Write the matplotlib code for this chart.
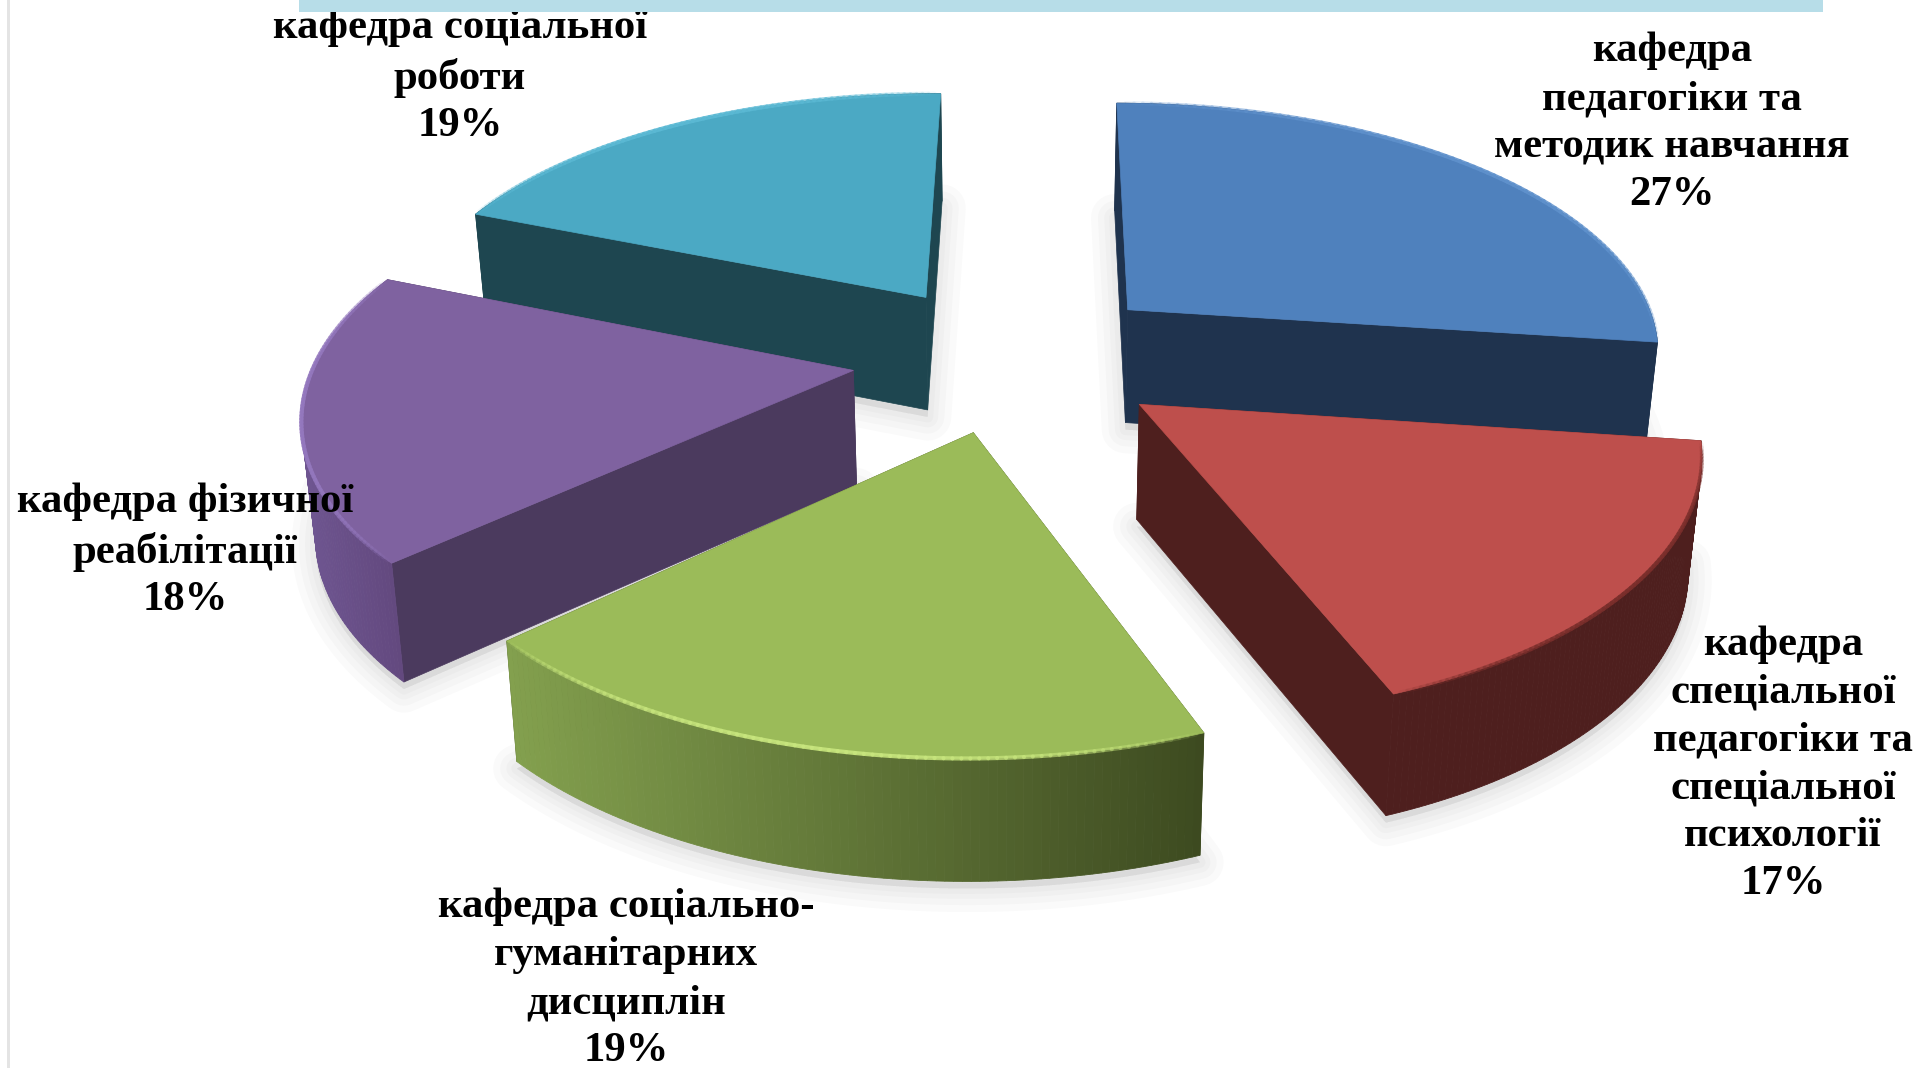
import numpy as np
import matplotlib
matplotlib.use("Agg")
import matplotlib.pyplot as plt
from matplotlib.colors import to_rgb
from matplotlib.patches import Polygon, Rectangle

# pie data, clockwise from the top
names = [
    "кафедра\nпедагогіки та\nметодик навчання",
    "кафедра\nспеціальної\nпедагогіки та\nспеціальної\nпсихології",
    "кафедра соціально-\nгуманітарних\nдисциплін",
    "кафедра фізичної\nреабілітації",
    "кафедра соціальної\nроботи",
]
values = [27, 17, 19, 18, 19]
top_colors = ["#4F81BD", "#BE4F4C", "#9BBB59", "#7F62A0", "#4BA9C4"]
cut_colors = ["#1F334E", "#4E1F1E", "#3F4B20", "#4B3A5E", "#1E4650"]
wall_left = ["#1F334E", "#4E1F1E", "#83A04E", "#6E5590", "#1E4650"]
wall_right = ["#1F334E", "#4E1F1E", "#3D4A20", "#63497F", "#1E4650"]
rim_colors = ["#5F91CC", "#7A2E2B", "#C8E67E", "#9478BE", "#5BB9D4"]
label_x = [1672, 1783, 626, 185, 460]
label_y = [123, 764, 979, 551, 77]

# view of the disc, in reference pixels
START = 0.5
CX, CY = 1011, 357
RX, RY = 537, 251
PERSP = 0.151
EXPLODE = 0.296
DEPTH = 114
BOTTOM_SHRINK = 0.98


def project(u, v, z=0.0):
    f = 1.0 / (1.0 - PERSP * v)
    scale = 1 - (1 - BOTTOM_SHRINK) * z
    return CX + RX * u * f * scale, CY + RY * v * f + z * DEPTH * f ** 0.35


def slice_outline(a0, a1, n=90):
    mid = np.radians((a0 + a1) / 2)
    ou, ov = EXPLODE * np.sin(mid), -EXPLODE * np.cos(mid)
    t = np.radians(np.linspace(a0, a1, n))
    return ou, ov, ou + np.sin(t), ov - np.cos(t)


def draw_slice(ax, a0, a1, i, zbase):
    ou, ov, u, v = slice_outline(a0, a1)
    ax0, ay0 = project(ou, ov)
    bx0, by0 = project(ou, ov, 1)
    tx, ty = project(u, v)
    bx, by = project(u, v, 1)

    # soft shadow below the block
    pts = np.column_stack([np.r_[bx0, bx], np.r_[by0, by] + 7])
    for lw in (34, 24, 15, 8):
        ax.add_patch(Polygon(pts, closed=True, fc="#808080", ec="#808080", lw=lw,
                             alpha=0.04, joinstyle="round", zorder=zbase))

    # the two cut faces
    for j in (0, -1):
        quad = [(ax0, ay0), (tx[j], ty[j]), (bx[j], by[j]), (bx0, by0)]
        ax.add_patch(Polygon(quad, closed=True, fc=cut_colors[i], ec=cut_colors[i],
                             lw=0.5, zorder=zbase + 1))

    # outer wall, shaded from left to right
    c0, c1 = np.array(to_rgb(wall_left[i])), np.array(to_rgb(wall_right[i]))
    xmin, xmax = tx.min(), tx.max()
    for k in range(len(tx) - 1):
        s = ((tx[k] + tx[k + 1]) / 2 - xmin) / (xmax - xmin)
        col = c0 + (c1 - c0) * s
        quad = [(tx[k], ty[k]), (tx[k + 1], ty[k + 1]), (bx[k + 1], by[k + 1]), (bx[k], by[k])]
        ax.add_patch(Polygon(quad, closed=True, fc=col, ec=col, lw=0.6, zorder=zbase + 1))

    # top face and bevel
    top = np.column_stack([np.r_[ax0, tx], np.r_[ay0, ty]])
    ax.add_patch(Polygon(top, closed=True, fc=top_colors[i], ec=top_colors[i], lw=0.5,
                         zorder=zbase + 2))
    for k in range(len(tx) - 1):
        s = k / (len(tx) - 2)
        ax.plot(tx[k:k + 2], ty[k:k + 2], color=rim_colors[i], lw=3,
                alpha=0.9 * np.sin(np.pi * s) ** 0.7, solid_capstyle="round",
                zorder=zbase + 2)


fig = plt.figure(figsize=(19.30, 10.68), dpi=100)
ax = fig.add_axes([0, 0, 1, 1])
ax.set_xlim(0, 1930)
ax.set_ylim(1068, 0)
ax.axis("off")

edges = START + np.r_[0, np.cumsum(values)] / sum(values) * 360
# back slices first, nearer ones painted over them
for rank, i in enumerate([4, 0, 3, 1, 2]):
    draw_slice(ax, edges[i], edges[i + 1], i, rank * 3 + 1)

for name, val, x, y in zip(names, values, label_x, label_y):
    ax.text(x, y, f"{name}\n{val}%", ha="center", va="center", fontsize=30.8,
            family="Liberation Serif", fontweight="bold", color="black",
            linespacing=1.34, zorder=50)

ax.add_patch(Rectangle((299, 0), 1524, 12, fc="#B7DDE8", ec="none", zorder=60))
ax.add_patch(Rectangle((7, 0), 3, 1068, fc="#E4E4E4", ec="none", zorder=0))

plt.savefig("out.png", dpi=100)
